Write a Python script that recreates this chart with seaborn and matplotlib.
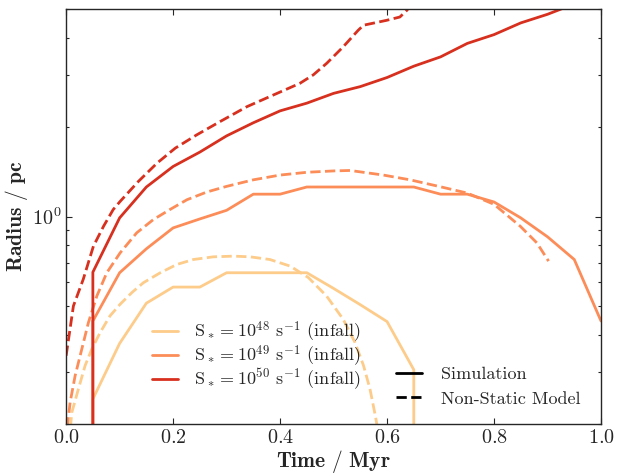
import numpy as np
import pandas as pd
import matplotlib
matplotlib.use("Agg")
import matplotlib.pyplot as plt
from matplotlib.lines import Line2D
import seaborn as sns

sns.set_style("ticks")
plt.rcParams["font.family"] = "serif"
plt.rcParams["font.serif"] = ["cmr10", "DejaVu Serif"]
plt.rcParams["mathtext.fontset"] = "cm"
plt.rcParams["axes.formatter.use_mathtext"] = True
plt.rcParams["axes.unicode_minus"] = False

# simulation output, radius in pc (0 = no HII region)
sim_t = [0.0, 0.05, 0.1, 0.15, 0.2, 0.25, 0.3, 0.35, 0.4, 0.45, 0.5,
         0.55, 0.6, 0.65, 0.7, 0.75, 0.8, 0.85, 0.9, 0.95, 1.0]
sim_48 = [0, 0.243, 0.374, 0.511, 0.579, 0.579, 0.647, 0.647, 0.647, 0.647, 0.573,
          0.505, 0.443, 0.305, 0, 0, 0, 0, 0, 0, 0]
sim_49 = [0, 0.445, 0.647, 0.779, 0.916, 0.982, 1.05, 1.19, 1.19, 1.258, 1.258,
          1.258, 1.258, 1.258, 1.19, 1.19, 1.12, 0.99, 0.855, 0.717, 0.445]
sim_50 = [0, 0.65, 0.99, 1.258, 1.475, 1.649, 1.87, 2.07, 2.27, 2.41, 2.60,
          2.74, 2.94, 3.21, 3.45, 3.83, 4.10, 4.49, 4.80, 5.2, 5.6]

# non-static model curves
mod_t48 = [0.008, 0.0107, 0.023, 0.0355, 0.048, 0.0636, 0.082, 0.101, 0.123, 0.1445,
           0.176, 0.207, 0.238, 0.275, 0.313, 0.344, 0.381, 0.419, 0.453, 0.487,
           0.518, 0.540, 0.556, 0.568, 0.578, 0.583]
mod_r48 = [0.195, 0.219, 0.263, 0.315, 0.358, 0.407, 0.463, 0.507, 0.555, 0.599,
           0.647, 0.690, 0.717, 0.732, 0.736, 0.732, 0.717, 0.681, 0.623, 0.540,
           0.451, 0.377, 0.315, 0.263, 0.214, 0.19]
mod_t49 = [0.002, 0.0075, 0.0168, 0.0293, 0.0417, 0.0574, 0.076, 0.101, 0.132, 0.163,
           0.194, 0.226, 0.263, 0.300, 0.350, 0.400, 0.450, 0.500, 0.531, 0.593,
           0.643, 0.70, 0.75, 0.80, 0.849, 0.880, 0.902]
mod_r49 = [0.195, 0.237, 0.291, 0.358, 0.44, 0.540, 0.647, 0.755, 0.882, 0.977,
           1.056, 1.14, 1.21, 1.264, 1.33, 1.38, 1.41, 1.425, 1.43, 1.38,
           1.33, 1.26, 1.20, 1.10, 0.928, 0.816, 0.708]
mod_t50 = [0.0, 0.0136, 0.032, 0.051, 0.070, 0.088, 0.101, 0.135, 0.170, 0.204,
           0.244, 0.288, 0.338, 0.388, 0.437, 0.462, 0.487, 0.518, 0.546, 0.556,
           0.599, 0.624, 0.637, 0.66]
mod_r50 = [0.34, 0.50, 0.615, 0.795, 0.928, 1.056, 1.125, 1.313, 1.514, 1.70,
           1.884, 2.09, 2.345, 2.57, 2.81, 3.0, 3.28, 3.73, 4.24, 4.41,
           4.58, 4.70, 4.95, 5.6]

labels = [r"S$_*=10^{48}$ s$^{-1}$ (infall)",
          r"S$_*=10^{49}$ s$^{-1}$ (infall)",
          r"S$_*=10^{50}$ s$^{-1}$ (infall)"]
colors = ["#fdcc8a", "#fc8d59", "#d7301f"]
palette = dict(zip(labels, colors))

sim_df = pd.concat([
    pd.DataFrame({"t": sim_t, "r": r, "run": lab})
    for r, lab in zip([sim_48, sim_49, sim_50], labels)
])
mod_df = pd.concat([
    pd.DataFrame({"t": t, "r": r, "run": lab})
    for t, r, lab in zip([mod_t48, mod_t49, mod_t50],
                         [mod_r48, mod_r49, mod_r50], labels)
])

fig, ax = plt.subplots(figsize=(6.18, 4.75), dpi=100)
fig.subplots_adjust(left=0.107, right=0.9725, top=0.981, bottom=0.107)

sns.lineplot(data=mod_df, x="t", y="r", hue="run", palette=palette, estimator=None,
             sort=False, lw=2, ls="--", legend=False, ax=ax)
sns.lineplot(data=sim_df, x="t", y="r", hue="run", palette=palette, estimator=None,
             sort=False, lw=2, legend=False, ax=ax)

# log axis set after drawing so the zero radii are clipped like in the original
ax.set_yscale("log")
ax.set_xlim(0, 1)
ax.set_ylim(0.2, 5)
ax.set_xticks([0.0, 0.2, 0.4, 0.6, 0.8, 1.0])
ax.xaxis.set_major_formatter(matplotlib.ticker.FormatStrFormatter(r"$%.1f$"))
ax.tick_params(which="both", direction="in", top=True, right=True, labelsize=14.5)
ax.tick_params(which="major", length=4.5, width=0.8)
ax.tick_params(which="minor", length=2.2, width=0.8)
for s in ax.spines.values():
    s.set_linewidth(1.0)

ax.set_xlabel(r"$\mathbf{Time\ /\ Myr}$", fontsize=15.5, labelpad=1)
ax.set_ylabel(r"$\mathbf{Radius\ /\ pc}$", fontsize=15.5, labelpad=1)

h1 = [Line2D([], [], color=c, lw=2) for c in colors]
leg1 = ax.legend(h1, labels, loc="center", bbox_to_anchor=(0.356, 0.164), frameon=False,
                 fontsize=13, handlelength=1.4, handletextpad=0.9, labelspacing=-0.1)
ax.add_artist(leg1)
h2 = [Line2D([], [], color="black", lw=2), Line2D([], [], color="black", lw=2, ls="--")]
ax.legend(h2, ["Simulation", "Non-Static Model"], loc="center", bbox_to_anchor=(0.79, 0.091),
          frameon=False, fontsize=13, handlelength=1.4, handletextpad=1.1, labelspacing=0.5)

fig.savefig("out.png", dpi=100)
